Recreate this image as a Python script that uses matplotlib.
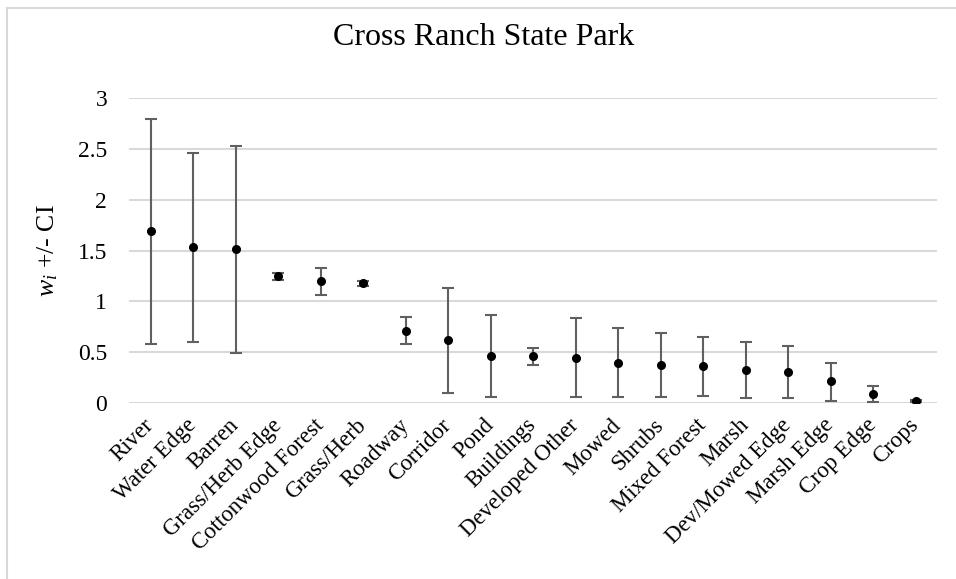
import matplotlib
matplotlib.use("Agg")
import matplotlib.pyplot as plt
from matplotlib.lines import Line2D
import numpy as np

categories = ["River", "Water Edge", "Barren", "Grass/Herb Edge", "Cottonwood Forest",
              "Grass/Herb", "Roadway", "Corridor", "Pond", "Buildings", "Developed Other",
              "Mowed", "Shrubs", "Mixed Forest", "Marsh", "Dev/Mowed Edge", "Marsh Edge",
              "Crop Edge", "Crops"]
w_mean = [1.69, 1.53, 1.51, 1.25, 1.20, 1.18, 0.71, 0.62, 0.46, 0.46, 0.44,
          0.39, 0.37, 0.36, 0.32, 0.30, 0.21, 0.09, 0.015]
ci_upper = [2.80, 2.46, 2.53, 1.28, 1.33, 1.20, 0.845, 1.13, 0.865, 0.54, 0.83,
            0.74, 0.69, 0.65, 0.60, 0.56, 0.395, 0.165, 0.025]
ci_lower = [0.58, 0.60, 0.485, 1.21, 1.065, 1.15, 0.58, 0.10, 0.06, 0.375, 0.06,
            0.055, 0.052, 0.062, 0.046, 0.043, 0.02, 0.01, 0.006]
y_ticks = [0, 0.5, 1, 1.5, 2, 2.5, 3]
y_tick_labels = ["0", "0.5", "1", "1.5", "2", "2.5", "3"]

plt.rcParams["font.family"] = ["Liberation Serif", "DejaVu Serif"]
plt.rcParams["mathtext.fontset"] = "custom"
plt.rcParams["mathtext.rm"] = "Liberation Serif"
plt.rcParams["mathtext.it"] = "Liberation Serif:italic"

fig = plt.figure(figsize=(9.56, 5.79), dpi=100)
ax = fig.add_axes([0.1354, 0.3045, 0.8447, 0.5257])

x = np.arange(len(categories))
mean = np.array(w_mean)
yerr = np.vstack([mean - np.array(ci_lower), np.array(ci_upper) - mean])

ax.errorbar(x, mean, yerr=yerr, fmt="o", color="black", markersize=5.5,
            ecolor="#606060", elinewidth=1.5, capsize=4.5, capthick=1.5, zorder=3)

ax.set_xlim(-0.5, len(categories) - 0.5)
ax.set_ylim(0, 3)
ax.set_yticks(y_ticks)
ax.set_yticklabels(y_tick_labels, fontsize=17)
ax.set_xticks(x)
ax.set_xticklabels(categories, rotation=45, ha="right", va="center",
                   rotation_mode="anchor", fontsize=16.5)
ax.tick_params(axis="both", length=0)
ax.tick_params(axis="y", pad=16)
ax.tick_params(axis="x", pad=14)
ax.grid(axis="y", color="#d9d9d9", linewidth=1.5, zorder=0)
ax.set_axisbelow(True)
for s in ax.spines.values():
    s.set_visible(False)

ax.set_ylabel(r"$w_i$ +/- CI", fontsize=18.5)
ax.yaxis.set_label_coords(-0.086, 0.5)

fig.text(0.5063, 0.936, "Cross Ranch State Park", ha="center", va="center", fontsize=23)

# chart frame
fig.add_artist(Line2D([6.5 / 956, 1.0], [1 - 8 / 579, 1 - 8 / 579],
                      transform=fig.transFigure, color="#d9d9d9", linewidth=1.5))
fig.add_artist(Line2D([6.5 / 956, 6.5 / 956], [0, 1 - 8 / 579],
                      transform=fig.transFigure, color="#d9d9d9", linewidth=1.5))

fig.savefig("out.png", dpi=100)
